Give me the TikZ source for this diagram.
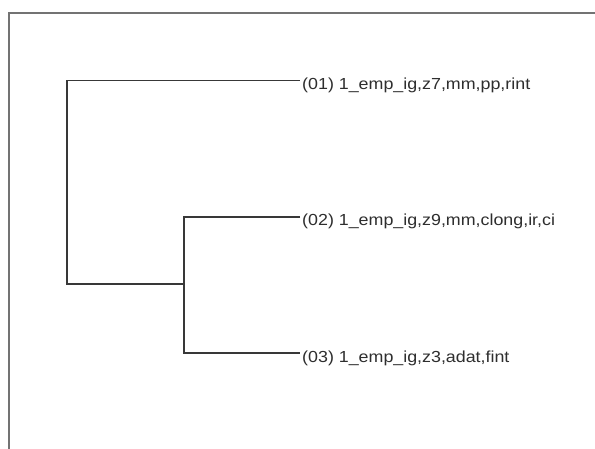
\documentclass[tikz,border=0pt]{standalone}
\usepackage{fontspec}
\setmainfont{Liberation Sans}
\begin{document}
\begin{tikzpicture}[x=1pt,y=-1pt,
  branch/.style={draw=black!78,line width=1.6pt},
  frameline/.style={draw=black!55,line width=1.6pt},
  leaf/.style={anchor=base west,inner sep=0pt,font=\fontsize{16}{19}\selectfont,xscale=1.115,text=black!82}]
\useasboundingbox[fill=white] (0,0) rectangle (595,448);
% frame (only left and top edges are inside the picture)
\draw[frameline] (9,460) -- (9,13) -- (610,13);
% leaves
\coordinate (e1) at (300,80.5);
\coordinate (e2) at (300,216.7);
\coordinate (e3) at (300,353);
\node[leaf] (l1) at (302,89.5) {(01) 1\_emp\_ig,z7,mm,pp,rint};
\node[leaf] (l2) at (302,225.7) {(02) 1\_emp\_ig,z9,mm,clong,ir,ci};
\node[leaf] (l3) at (302,362) {(03) 1\_emp\_ig,z3,adat,fint};
% internal nodes
\coordinate (c23) at (184,284);
\coordinate (root) at (66.7,284);
\coordinate (c23t) at (184,216.7);
\coordinate (c23b) at (184,353);
\coordinate (roott) at (66.7,80.5);
\draw[branch] (e2) -- (c23t) -- (c23b) -- (e3);
\draw[branch] (c23) -- (root) -- (roott) -- (e1);
\end{tikzpicture}
\end{document}
